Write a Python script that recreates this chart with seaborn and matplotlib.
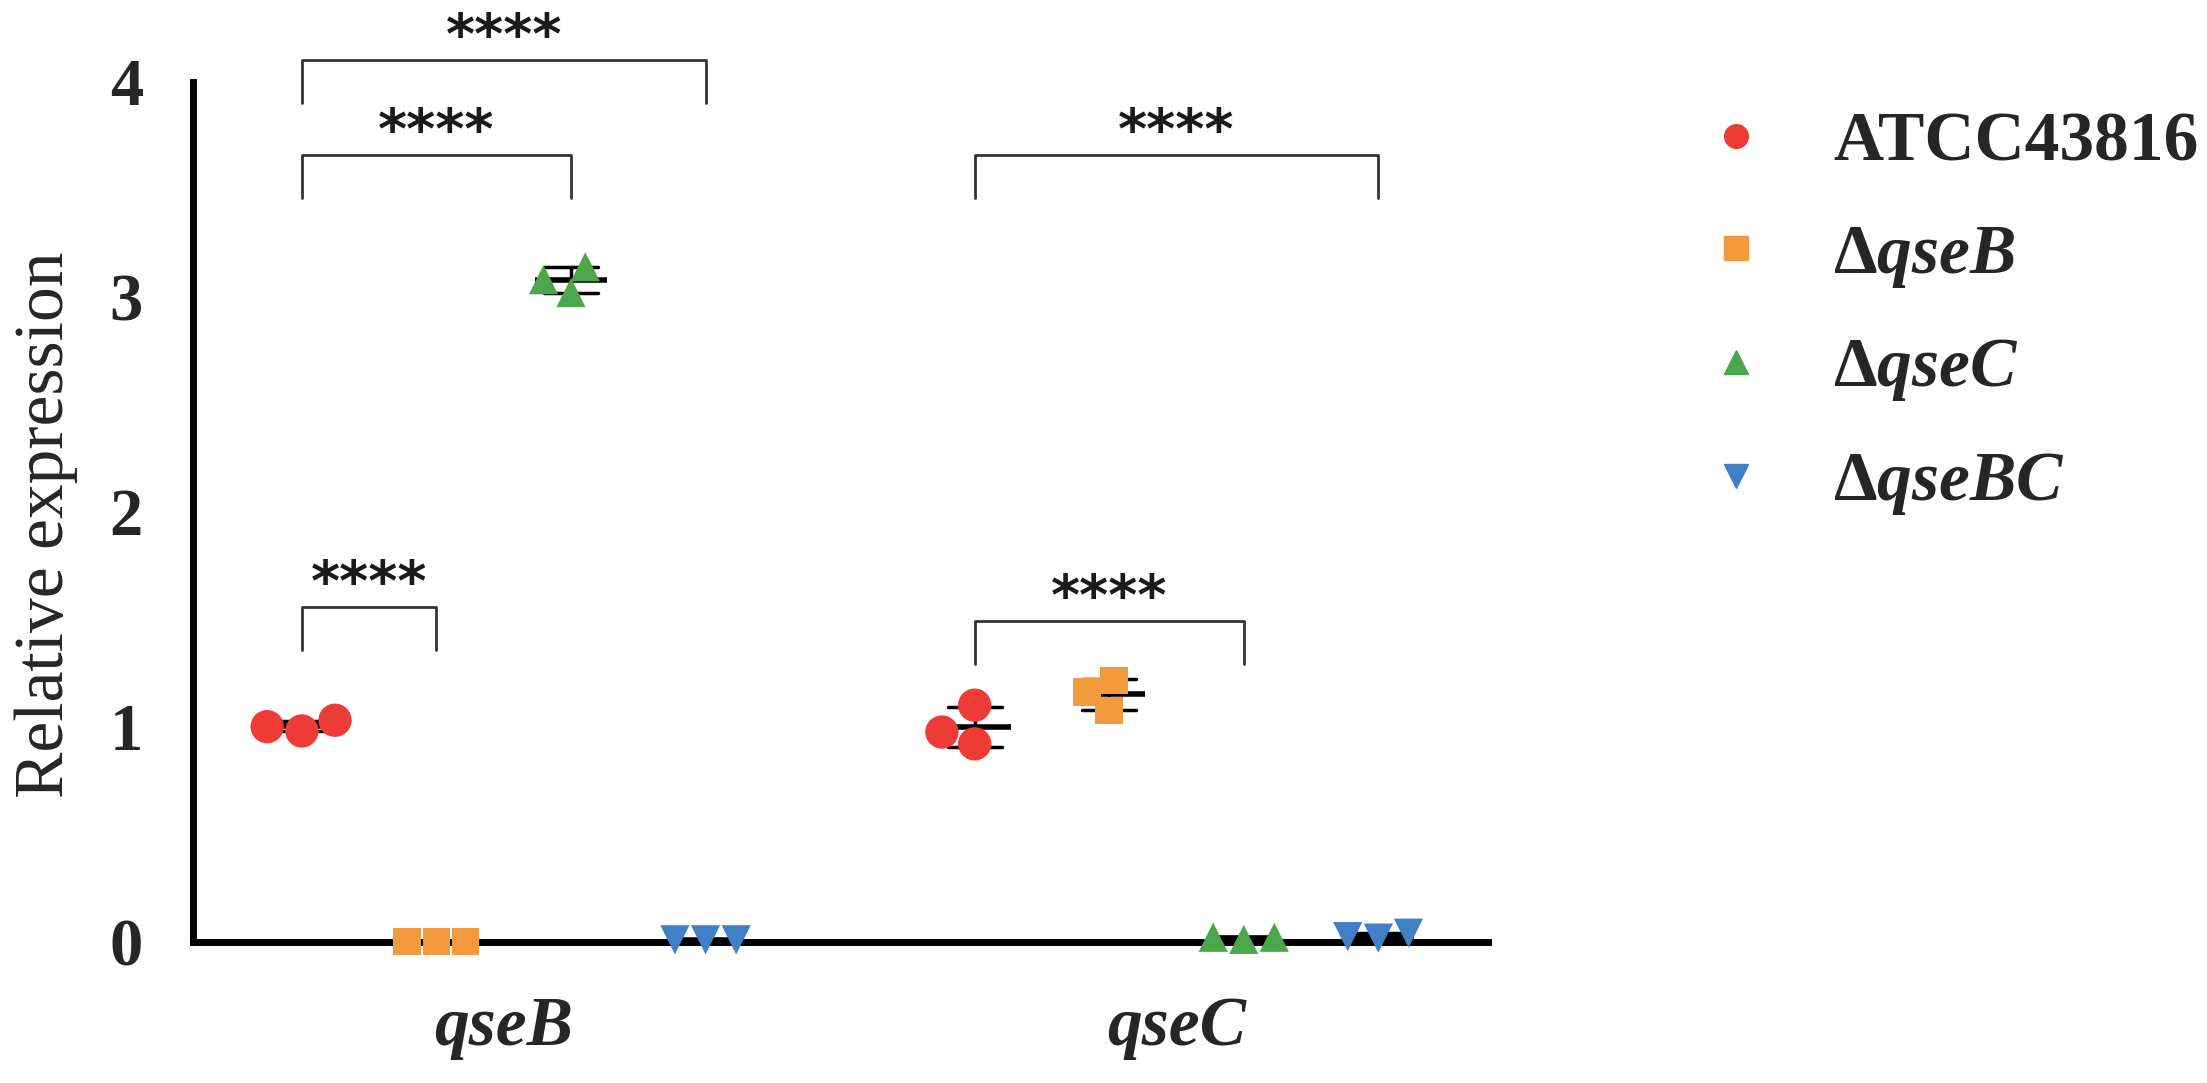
import pandas as pd
import matplotlib
matplotlib.use("Agg")
import matplotlib.pyplot as plt
import seaborn as sns
from matplotlib.lines import Line2D

# data (three replicates per strain and gene)
genes = ["qseB", "qseC"]
strains = ["ATCC43816", "dqseB", "dqseC", "dqseBC"]
legend_labels = ["ATCC43816", r"$\Delta qseB$", r"$\Delta qseC$", r"$\Delta qseBC$"]
colors = ["#EE3B36", "#F39A3C", "#4CA64C", "#3F80C6"]
markers = ["o", "s", "^", "v"]
marker_sizes = [24, 20, 21, 21]

atcc_vals = {"qseB": [0.98, 1.03, 1.00], "qseC": [0.92, 1.10, 0.975]}
dqseB_vals = {"qseB": [0.0, 0.0, 0.0], "qseC": [1.215, 1.075, 1.16]}
dqseC_vals = {"qseB": [3.14, 3.02, 3.08], "qseC": [0.01, 0.02, 0.02]}
dqseBC_vals = {"qseB": [0.008, 0.008, 0.008], "qseC": [0.023, 0.039, 0.016]}

# significance brackets: gene, group a, group b, bar height
sig_gene = ["qseB", "qseB", "qseB", "qseC", "qseC"]
sig_a = ["ATCC43816"] * 5
sig_b = ["dqseB", "dqseC", "dqseBC", "dqseBC", "dqseC"]
sig_y = [1.555, 3.66, 4.10, 3.66, 1.49]
sig_text = ["****"] * 5

rows = []
for strain, vals in zip(strains, [atcc_vals, dqseB_vals, dqseC_vals, dqseBC_vals]):
    for gene in genes:
        for v in vals[gene]:
            rows.append({"gene": gene, "strain": strain, "value": v})
df = pd.DataFrame(rows)

sns.set_theme(style="white")
plt.rcParams["font.family"] = ["Liberation Serif", "DejaVu Serif"]
plt.rcParams["mathtext.fontset"] = "custom"
plt.rcParams["mathtext.rm"] = "Liberation Serif:bold"
plt.rcParams["mathtext.it"] = "Liberation Serif:bold:italic"
plt.rcParams["mathtext.bf"] = "Liberation Serif:bold"

fig = plt.figure(figsize=(22.07, 10.83), dpi=100)
ax = fig.add_axes([0.0874, 0.1306, 0.5868, 0.7937])

pal = dict(zip(strains, colors))
for i, s in enumerate(strains):
    sns.swarmplot(data=df[df["strain"] == s], x="gene", y="value", hue="strain",
                  order=genes, hue_order=strains, palette=pal, dodge=True,
                  marker=markers[i], size=marker_sizes[i], linewidth=0,
                  legend=False, ax=ax, zorder=5, clip_on=False)

# mean +/- SD
sns.pointplot(data=df, x="gene", y="value", hue="strain", order=genes,
              hue_order=strains, palette=dict(zip(strains, ["black"] * 4)),
              dodge=0.6, errorbar="sd", capsize=0.08, markers="_",
              linestyles="none", markersize=52, markeredgewidth=4,
              err_kws={"linewidth": 2.5}, legend=False, ax=ax, zorder=4)

ax.set_xlim(-0.462, 1.463)
ax.set_ylim(0, 4)
ax.set_yticks([0, 1, 2, 3, 4])
ax.set_xticks([0, 1])
ax.set_xticklabels(genes, fontsize=50, fontweight="bold", fontstyle="italic")
for lab in ax.get_yticklabels():
    lab.set_fontsize(48)
    lab.set_fontweight("bold")
ax.set_xlabel("")
ax.set_ylabel("Relative expression", fontsize=50)
ax.yaxis.set_label_coords(-0.089, 0.485)
sns.despine(ax=ax)
for sp in ["left", "bottom"]:
    ax.spines[sp].set_linewidth(5)
    ax.spines[sp].set_color("black")
ax.tick_params(axis="both", length=27, width=5, color="black", pad=9)
ax.tick_params(axis="x", pad=12)

# brackets
gap = 0.2
for g, a, b, y, t in zip(sig_gene, sig_a, sig_b, sig_y, sig_text):
    xa = genes.index(g) + (strains.index(a) - 1.5) * gap
    xb = genes.index(g) + (strains.index(b) - 1.5) * gap
    ax.plot([xa, xa, xb, xb], [y - 0.2, y, y, y - 0.2], color="#333333",
            lw=2, clip_on=False, zorder=3)
    ax.text((xa + xb) / 2, y + 0.035, t, ha="center", va="baseline",
            fontsize=40, fontweight="bold", family="DejaVu Sans", color="#1a1a1a")

handles = [Line2D([], [], marker=m, color=c, linestyle="none", markersize=17)
           for m, c in zip(markers, colors)]
fig.legend(handles, legend_labels, loc="upper left", bbox_to_anchor=(0.755, 0.929),
           frameon=False, handlelength=1, handletextpad=0.9, labelspacing=0.69,
           borderpad=0, prop={"family": "Liberation Serif", "weight": "bold", "size": 50})

fig.savefig("out.png", dpi=100)
